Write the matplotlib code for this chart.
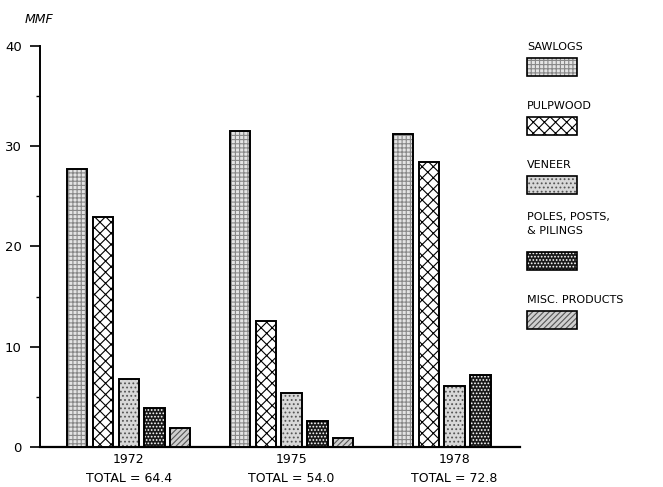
import numpy as np
import matplotlib
matplotlib.use("Agg")
import matplotlib.pyplot as plt
from matplotlib.patches import Rectangle

# values (million cubic feet)
years = ["1972", "1975", "1978"]
totals = ["64.4", "54.0", "72.8"]
products = ["SAWLOGS", "PULPWOOD", "VENEER", "POLES, POSTS,\n& PILINGS", "MISC. PRODUCTS"]
sawlogs = [27.7, 31.5, 31.2]
pulpwood = [22.9, 12.6, 28.4]
veneer = [6.8, 5.4, 6.1]
poles = [3.9, 2.6, 7.2]
misc = [1.9, 0.9, 0.0]

series = [sawlogs, pulpwood, veneer, poles, misc]
faces = ["#e4e4e4", "white", "#d8d8d8", "#1a1a1a", "#cfcfcf"]
hatches = ["++++", "xxx", "....", ".....", "//////"]
hcolors = ["#888888", "black", "#555555", "white", "#555555"]

plt.rcParams["font.family"] = ["DejaVu Sans"]
plt.rcParams["hatch.linewidth"] = 0.8

fig = plt.figure(figsize=(6.63, 4.87), dpi=100)
ax = fig.add_axes([0.060, 0.082, 0.724, 0.824])

x = np.arange(len(years))
slot = 0.158
width = 0.125
for j, vals in enumerate(series):
    for i, v in enumerate(vals):
        if v <= 0:
            continue
        b = ax.bar(x[i] + (j - 2) * slot, v, width, color=faces[j],
                   edgecolor="black", linewidth=1.4, zorder=3)
        b[0].set_hatch(hatches[j])
        b[0]._hatch_color = matplotlib.colors.to_rgba(hcolors[j])

ax.set_xlim(-0.546, 2.40)
ax.set_ylim(0, 40)
ax.set_yticks([0, 10, 20, 30, 40])
ax.set_yticks([5, 15, 25, 35], minor=True)
ax.tick_params(axis="y", which="major", length=7, width=1.2, labelsize=9.5, pad=6)
ax.tick_params(axis="y", which="minor", length=3, width=1)
ax.set_xticks([])
for s in ["top", "right"]:
    ax.spines[s].set_visible(False)
ax.spines["left"].set_linewidth(1.4)
ax.spines["bottom"].set_linewidth(1.6)

for i, (yr, tot) in enumerate(zip(years, totals)):
    ax.text(x[i], -1.2, yr, ha="center", va="center", fontsize=9)
    ax.text(x[i], -3.1, "TOTAL = " + tot, ha="center", va="center", fontsize=9)

ax.text(-0.64, 42.6, "MMF", ha="left", va="center", fontsize=9, style="italic",
        transform=ax.transData, clip_on=False)

# legend: label above its swatch
px = lambda v: v / 663
py = lambda v: 1 - v / 487
ytop = 47
for j, lab in enumerate(products):
    nlines = lab.count("\n") + 1
    fig.text(px(527), py(ytop), lab, ha="left", va="center", fontsize=8,
             linespacing=1.6)
    sw_top = ytop + 11 + (nlines - 1) * 17
    r = Rectangle((px(527), py(sw_top + 18)), px(50), 18 / 487,
                  transform=fig.transFigure, facecolor=faces[j],
                  edgecolor="black", linewidth=1.2, hatch=hatches[j])
    r._hatch_color = matplotlib.colors.to_rgba(hcolors[j])
    fig.add_artist(r)
    ytop = sw_top + 18 + 30

fig.savefig("out.png", dpi=100)
